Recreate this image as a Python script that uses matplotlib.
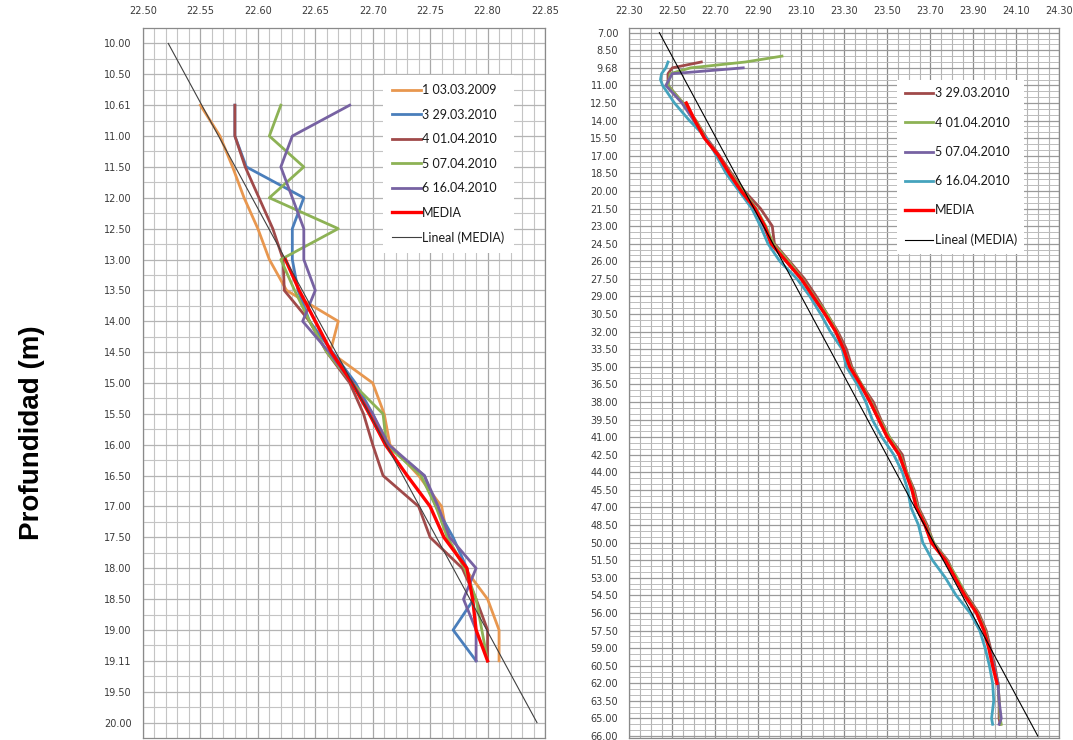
import matplotlib
matplotlib.use("Agg")
import matplotlib.pyplot as plt
from matplotlib.ticker import MultipleLocator, FixedLocator, FormatStrFormatter

# ---------------- LEFT PANEL DATA ----------------
L_CATS = [10.00, 10.50, 10.61, 11.00, 11.50, 12.00, 12.50, 13.00, 13.50, 14.00,
          14.50, 15.00, 15.50, 16.00, 16.50, 17.00, 17.50, 18.00, 18.50, 19.00,
          19.11, 19.50, 20.00]
L_XTICKS = [22.50, 22.55, 22.60, 22.65, 22.70, 22.75, 22.80, 22.85]
L_DEPTH = [10.61, 11.00, 11.50, 12.00, 12.50, 13.00, 13.50, 14.00, 14.50, 15.00,
           15.50, 16.00, 16.50, 17.00, 17.50, 18.00, 18.50, 19.00, 19.11]
L_S1 = [22.550, 22.567, 22.578, 22.588, 22.600, 22.610, 22.625, 22.670, 22.663, 22.700,
        22.710, 22.715, 22.740, 22.760, 22.765, 22.780, 22.800, 22.810, 22.810]
L_S3 = [22.580, 22.580, 22.590, 22.640, 22.630, 22.630, 22.635, 22.645, 22.665, 22.685,
        22.700, 22.712, 22.745, 22.755, 22.770, 22.782, 22.788, 22.770, 22.790]
L_S4 = [22.580, 22.580, 22.589, 22.601, 22.613, 22.622, 22.623, 22.645, 22.660, 22.680,
        22.692, 22.700, 22.709, 22.740, 22.750, 22.778, 22.790, 22.800, 22.800]
L_S5 = [22.620, 22.610, 22.640, 22.610, 22.670, 22.620, 22.632, 22.645, 22.660, 22.682,
        22.709, 22.712, 22.742, 22.755, 22.765, 22.780, 22.790, 22.795, 22.800]
L_S6 = [22.680, 22.630, 22.620, 22.630, 22.640, 22.640, 22.650, 22.639, 22.662, 22.682,
        22.700, 22.714, 22.745, 22.757, 22.767, 22.790, 22.779, 22.790, 22.790]
L_MEDIA_DEPTH = [13.00, 13.50, 14.00, 14.50, 15.00, 15.50, 16.00, 16.50, 17.00, 17.50,
                 18.00, 18.50, 19.00, 19.11]
L_MEDIA = [22.624, 22.636, 22.650, 22.664, 22.682, 22.697, 22.711, 22.730, 22.750, 22.762,
           22.782, 22.787, 22.790, 22.800]
L_TREND_DEPTH = [10.00, 20.00]
L_TREND = [22.522, 22.843]
L_NAMES = ["1 03.03.2009", "3 29.03.2010", "4 01.04.2010", "5 07.04.2010",
           "6 16.04.2010", "MEDIA", "Lineal (MEDIA)"]

# ---------------- RIGHT PANEL DATA ----------------
R_CATS = ([7.00, 7.50, 8.00, 8.50, 9.00, 9.50, 9.68]
          + [10.0 + 0.5 * i for i in range(111)]
          + [65.35, 65.50, 66.00])
R_XTICKS = [22.30, 22.50, 22.70, 22.90, 23.10, 23.30, 23.50, 23.70, 23.90, 24.10, 24.30]
R_MAIN_DEPTH = [12.5, 14.0, 15.5, 17.0, 18.5, 20.0, 21.5, 23.0, 24.5, 26.0, 27.5, 29.0,
                30.5, 32.0, 33.5, 35.0, 36.5, 38.0, 39.5, 41.0, 42.5, 44.0, 45.5, 47.0,
                48.5, 50.0, 51.5, 53.0, 54.5, 56.0, 57.5, 59.0, 60.5, 62.0]
R_TAIL_DEPTH = [63.5, 65.0, 65.35]

R_S3_DEPTH = [9.50, 9.68, 10.0, 11.0] + R_MAIN_DEPTH + R_TAIL_DEPTH
R_S3 = ([22.635, 22.500, 22.480, 22.480]
        + [22.550, 22.610, 22.660, 22.720, 22.775, 22.835, 22.910, 22.965, 22.975, 23.045,
           23.115, 23.170, 23.220, 23.270, 23.310, 23.335, 23.380, 23.435, 23.470, 23.510,
           23.570, 23.590, 23.625, 23.645, 23.685, 23.715, 23.780, 23.820, 23.870, 23.925,
           23.960, 23.980, 24.000, 24.015]
        + [24.020, 24.020, 24.025])
R_S4_DEPTH = [9.00, 9.50, 9.68, 10.0, 11.0] + R_MAIN_DEPTH + R_TAIL_DEPTH
R_S4 = ([23.010, 22.840, 22.585, 22.490, 22.480]
        + [22.550, 22.610, 22.655, 22.715, 22.770, 22.830, 22.890, 22.935, 22.970, 23.040,
           23.105, 23.160, 23.220, 23.265, 23.300, 23.330, 23.380, 23.425, 23.465, 23.510,
           23.560, 23.590, 23.620, 23.640, 23.680, 23.715, 23.775, 23.825, 23.865, 23.920,
           23.955, 23.975, 23.995, 24.015]
        + [24.020, 24.025, 24.030])
R_S5_DEPTH = [9.68, 10.0, 11.0, 12.0] + R_MAIN_DEPTH + R_TAIL_DEPTH
R_S5 = ([22.830, 22.500, 22.470, 22.520]
        + [22.545, 22.600, 22.650, 22.715, 22.765, 22.820, 22.885, 22.925, 22.960, 23.030,
           23.100, 23.155, 23.210, 23.260, 23.300, 23.325, 23.375, 23.420, 23.460, 23.500,
           23.555, 23.585, 23.615, 23.635, 23.675, 23.710, 23.770, 23.815, 23.860, 23.915,
           23.950, 23.975, 23.995, 24.015]
        + [24.020, 24.030, 24.020])
R_S6_DEPTH = [9.50, 9.68, 10.0, 10.5, 11.0] + R_MAIN_DEPTH + R_TAIL_DEPTH
R_S6 = ([22.480, 22.470, 22.450, 22.445, 22.455]
        + [22.510, 22.580, 22.660, 22.705, 22.750, 22.810, 22.870, 22.910, 22.945, 23.000,
           23.080, 23.140, 23.190, 23.235, 23.290, 23.310, 23.360, 23.400, 23.430, 23.475,
           23.530, 23.570, 23.595, 23.610, 23.645, 23.665, 23.710, 23.770, 23.820, 23.885,
           23.930, 23.955, 23.975, 23.990]
        + [23.995, 23.985, 23.990])
R_MEDIA_DEPTH = R_MAIN_DEPTH
R_MEDIA = [22.565, 22.605, 22.650, 22.715, 22.765, 22.820, 22.885, 22.930, 22.960, 23.030,
           23.100, 23.155, 23.210, 23.260, 23.297, 23.325, 23.375, 23.420, 23.460, 23.500,
           23.555, 23.585, 23.615, 23.635, 23.675, 23.705, 23.770, 23.815, 23.860, 23.915,
           23.950, 23.972, 23.990, 24.010]
R_TREND_DEPTH = [7.00, 66.00]
R_TREND = [22.44, 24.20]
R_NAMES = ["3 29.03.2010", "4 01.04.2010", "5 07.04.2010", "6 16.04.2010",
           "MEDIA", "Lineal (MEDIA)"]

# ---------------- STYLE ----------------
C_ORANGE = "#E8974F"
C_BLUE = "#4A7EBB"
C_DRED = "#A04A4A"
C_GREEN = "#8DB255"
C_PURPLE = "#7762A2"
C_CYAN = "#45A3BD"
C_RED = "#FF0000"
TICK_COLOR = "#3a3a3a"
LEG_FONT = "Lato"

W, H = 1073, 740
fig = plt.figure(figsize=(W / 100, H / 100), dpi=100)
fig.patch.set_facecolor("white")


def pos(cats, depths):
    return [cats.index(d) for d in depths]


def style_axes(ax):
    for s in ax.spines.values():
        s.set_color("#8a8a8a")
        s.set_linewidth(0.9)
    ax.xaxis.tick_top()
    ax.tick_params(axis="both", which="both", length=0, colors=TICK_COLOR,
                   labelsize=7)
    ax.tick_params(axis="x", pad=9)
    ax.tick_params(axis="y", pad=8)
    ax.set_axisbelow(True)


# ---------------- LEFT ----------------
axL = fig.add_axes([143 / W, 2 / H, (545 - 143) / W, 710 / H])
style_axes(axL)
axL.set_xlim(L_XTICKS[0], L_XTICKS[-1])
axL.set_ylim(len(L_CATS) - 0.5, -0.5)
axL.xaxis.set_major_locator(FixedLocator(L_XTICKS))
axL.xaxis.set_minor_locator(MultipleLocator(0.01))
axL.xaxis.set_major_formatter(FormatStrFormatter("%.2f"))
axL.set_yticks(range(len(L_CATS)))
axL.set_yticklabels(["%.2f" % c for c in L_CATS])
axL.yaxis.set_minor_locator(FixedLocator([i + 0.5 for i in range(len(L_CATS) - 1)]))
axL.grid(which="major", axis="x", color="#a8a8a8", lw=0.9)
axL.grid(which="minor", axis="x", color="#c4c4c4", lw=0.8)
axL.grid(which="major", axis="y", color="#b4b4b4", lw=0.9)
axL.grid(which="minor", axis="y", color="#c4c4c4", lw=0.8)

yl = pos(L_CATS, L_DEPTH)
lw = 2.0
axL.plot(L_S1, yl, color=C_ORANGE, lw=lw, label=L_NAMES[0])
axL.plot(L_S3, yl, color=C_BLUE, lw=lw, label=L_NAMES[1])
axL.plot(L_S4, yl, color=C_DRED, lw=lw, label=L_NAMES[2])
axL.plot(L_S5, yl, color=C_GREEN, lw=lw, label=L_NAMES[3])
axL.plot(L_S6, yl, color=C_PURPLE, lw=lw, label=L_NAMES[4])
axL.plot(L_MEDIA, pos(L_CATS, L_MEDIA_DEPTH), color=C_RED, lw=2.4, label=L_NAMES[5])
axL.plot(L_TREND, pos(L_CATS, L_TREND_DEPTH), color="#404040", lw=0.8, label=L_NAMES[6])

legL = axL.legend(loc="upper left", bbox_to_anchor=(0.597, 0.934), borderaxespad=0,
                  frameon=True, fancybox=False, edgecolor="none", facecolor="white",
                  framealpha=1, prop={"family": LEG_FONT, "size": 9},
                  handlelength=2.3, handletextpad=0.1, labelspacing=1.0,
                  borderpad=0.75)
for t in legL.get_texts():
    t.set_color("#1a1a1a")

# ---------------- RIGHT ----------------
axR = fig.add_axes([629.3 / W, 2 / H, 430 / W, 710 / H])
style_axes(axR)
axR.set_xlim(R_XTICKS[0], R_XTICKS[-1])
axR.set_ylim(len(R_CATS) - 0.66, -0.8)
axR.xaxis.set_major_locator(FixedLocator(R_XTICKS))
axR.xaxis.set_minor_locator(MultipleLocator(0.05))
axR.xaxis.set_major_formatter(FormatStrFormatter("%.2f"))
major_k = list(range(0, len(R_CATS), 3))
axR.set_yticks(major_k)
axR.set_yticklabels(["%.2f" % R_CATS[k] for k in major_k])
axR.yaxis.set_minor_locator(FixedLocator([k for k in range(len(R_CATS)) if k % 3]))
axR.grid(which="major", axis="x", color="#8c8c8c", lw=0.9)
axR.grid(which="minor", axis="x", color="#b4b4b4", lw=0.8)
axR.grid(which="major", axis="y", color="#9a9a9a", lw=0.9)
axR.grid(which="minor", axis="y", color="#bcbcbc", lw=0.7)

axR.plot(R_S3, pos(R_CATS, R_S3_DEPTH), color=C_DRED, lw=lw, label=R_NAMES[0])
axR.plot(R_S4, pos(R_CATS, R_S4_DEPTH), color=C_GREEN, lw=lw, label=R_NAMES[1])
axR.plot(R_S5, pos(R_CATS, R_S5_DEPTH), color=C_PURPLE, lw=lw, label=R_NAMES[2])
axR.plot(R_S6, pos(R_CATS, R_S6_DEPTH), color=C_CYAN, lw=lw, label=R_NAMES[3])
axR.plot(R_MEDIA, pos(R_CATS, R_MEDIA_DEPTH), color=C_RED, lw=2.4, label=R_NAMES[4])
axR.plot(R_TREND, pos(R_CATS, R_TREND_DEPTH), color="#000000", lw=0.8, label=R_NAMES[5])

legR = axR.legend(loc="upper left", bbox_to_anchor=(0.6226, 0.9268), borderaxespad=0,
                  frameon=True, fancybox=False, edgecolor="none", facecolor="white",
                  framealpha=1, prop={"family": LEG_FONT, "size": 9},
                  handlelength=2.3, handletextpad=0.1, labelspacing=1.38,
                  borderpad=0.6)
for t in legR.get_texts():
    t.set_color("#1a1a1a")

fig.text(32 / W, 1 - 433 / H, "Profundidad (m)", rotation=90, fontsize=20,
         fontweight="bold", family="Liberation Sans", ha="center", va="center",
         color="black")

fig.savefig("out.png", dpi=100, facecolor="white")
